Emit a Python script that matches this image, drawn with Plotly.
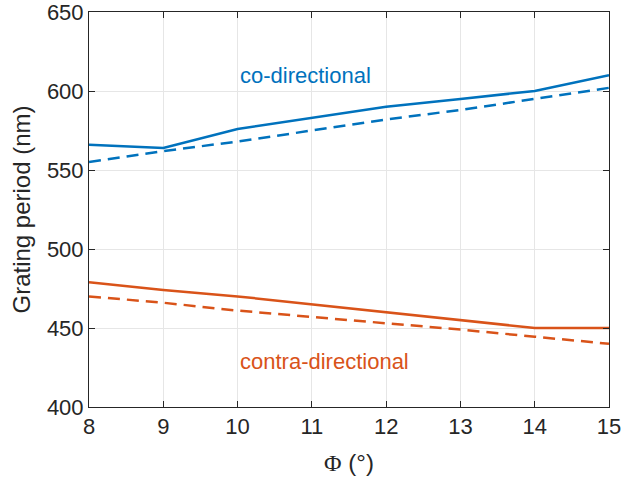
import plotly.graph_objects as go

phi = [8, 9, 10, 11, 12, 13, 14, 15]
co_solid = [566, 564, 576, 583, 590, 595, 600, 610]
co_dash = [555, 562, 568, 575, 582, 588, 595, 602]
contra_solid = [479, 474, 470, 465, 460, 455, 450, 450]
contra_dash = [470, 466, 461, 457, 453, 449, 444.5, 440]

BLUE = "#0072BD"
ORANGE = "#D95319"
DASH = "12px,7px"

fig = go.Figure()
fig.add_trace(go.Scatter(x=phi, y=co_solid, mode="lines", line=dict(color=BLUE, width=2.5)))
fig.add_trace(go.Scatter(x=phi, y=co_dash, mode="lines", line=dict(color=BLUE, width=2.5, dash=DASH)))
fig.add_trace(go.Scatter(x=phi, y=contra_solid, mode="lines", line=dict(color=ORANGE, width=2.5)))
fig.add_trace(go.Scatter(x=phi, y=contra_dash, mode="lines", line=dict(color=ORANGE, width=2.5, dash=DASH)))

fig.add_annotation(x=10, y=609.5, text="co-directional", showarrow=False, xanchor="left",
                   font=dict(color=BLUE, size=22, family="Liberation Sans"))
fig.add_annotation(x=10, y=428.5, text="contra-directional", showarrow=False, xanchor="left",
                   font=dict(color=ORANGE, size=22, family="Liberation Sans"))

axis_common = dict(showline=True, linecolor="#262626", linewidth=1, mirror="ticks",
                   ticks="inside", ticklen=6, tickcolor="#262626", automargin=False,
                   ticklabeloverflow="allow",
                   showgrid=True, gridcolor="#E6E6E6", gridwidth=1, zeroline=False,
                   tickfont=dict(size=22, color="#262626", family="Liberation Sans"))

fig.update_xaxes(range=[8, 15], dtick=1, tick0=8,
                 title=dict(text='<span style="font-family:Liberation Serif">Φ</span> (°)',
                            font=dict(size=24, color="#262626", family="Liberation Sans"), standoff=15),
                 **axis_common)
fig.update_yaxes(range=[400, 650], dtick=50, tick0=400,
                 title=dict(text="Grating period (nm)",
                            font=dict(size=24, color="#262626", family="Liberation Sans"), standoff=9),
                 **axis_common)

fig.update_layout(width=636, height=479, showlegend=False,
                  margin=dict(l=89, r=27, t=12, b=72),
                  plot_bgcolor="white", paper_bgcolor="white")

fig.write_html("out.html")
